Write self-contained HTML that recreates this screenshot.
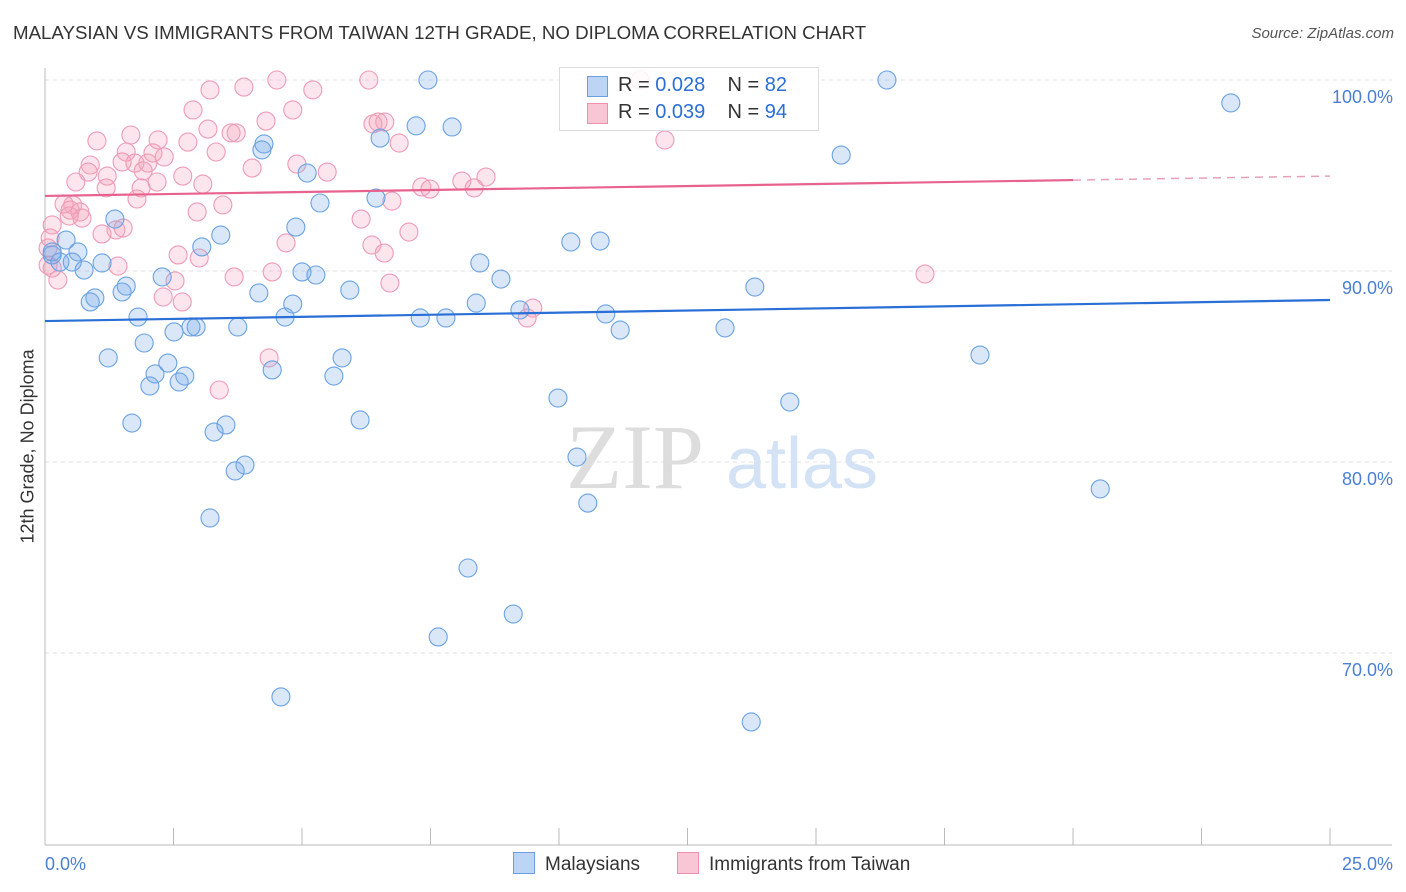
<!DOCTYPE html>
<html><head><meta charset="utf-8">
<style>
body{margin:0;background:#fff;font-family:"Liberation Sans",sans-serif;}
#wrap{position:relative;width:1406px;height:892px;overflow:hidden;}
.t{position:absolute;white-space:nowrap;}
</style></head>
<body>
<div id="wrap">
<div class="t" style="left:13px;top:22px;font-size:18.7px;color:#333;">MALAYSIAN VS IMMIGRANTS FROM TAIWAN 12TH GRADE, NO DIPLOMA CORRELATION CHART</div>
<div class="t" style="right:12px;top:25px;font-size:15px;color:#555;font-style:italic;">Source: ZipAtlas.com</div>
<div class="t" style="left:-62px;top:443px;font-size:18px;color:#333;transform:rotate(-90deg);transform-origin:center;width:180px;text-align:center;">12th Grade, No Diploma</div>
<svg id="svg" width="1406" height="892" style="position:absolute;left:0;top:0;"></svg>
</div>
<script>
const xTicksVals=[0,25];
const yTickVals=[100,90,80,70];
const yTickLabels=["100.0%","90.0%","80.0%","70.0%"];
const blueX=[7.45,16.38,23.07,6.52,7.22,7.92,4.26,4.22,15.49,5.10,6.44,5.35,1.36,4.88,3.42,3.05,10.23,10.80,0.41,0.64,0.14,0.29,0.53,1.11,0.76,8.46,5.0,5.27,2.28,8.87,13.81,4.16,1.58,1.50,5.93,0.97,0.88,4.82,8.39,9.24,1.81,4.67,7.30,7.80,10.91,11.19,13.23,2.84,2.94,2.51,3.75,1.93,1.23,2.39,5.78,18.19,2.14,2.72,4.42,5.62,2.04,2.61,9.98,14.49,1.69,3.52,3.29,6.13,10.35,3.89,3.70,20.53,10.56,3.21,8.23,9.11,7.65,4.59,13.74,0.14];
const blueY=[100,100,98.8,96.96,97.6,97.54,96.65,96.34,96.07,95.13,93.82,93.56,92.72,92.30,91.88,91.26,91.52,91.57,91.62,91.0,90.84,90.47,90.47,90.42,90.05,90.42,89.95,89.79,89.69,89.58,89.16,88.85,89.21,88.9,89.0,88.59,88.38,88.27,88.32,87.96,87.59,87.59,87.54,87.54,87.75,86.91,87.02,87.07,87.07,86.81,87.07,86.23,85.45,85.18,85.45,85.6,84.61,84.5,84.82,84.5,83.98,84.19,83.35,83.14,82.04,81.94,81.57,82.2,80.26,79.84,79.53,78.59,77.85,77.07,74.45,72.04,70.84,67.70,66.39,91.0];
const pinkX=[4.51,6.30,11.58,3.87,3.21,5.21,2.88,4.82,6.48,6.61,6.38,4.30,3.72,3.17,3.62,1.67,2.20,1.01,2.78,6.89,12.06,3.33,1.58,2.10,2.32,1.50,1.75,0.88,2.0,4.90,0.84,1.21,1.91,2.68,4.03,5.49,0.60,1.19,1.87,2.18,3.07,8.58,7.33,7.49,8.11,8.35,1.79,6.75,3.46,0.54,0.37,0.49,0.68,0.72,0.47,0.14,2.96,6.15,1.11,1.38,1.52,7.08,0.10,0.06,6.36,4.69,2.59,3.0,6.60,1.42,17.12,3.68,4.42,6.71,2.53,2.30,2.67,9.38,9.49,4.36,3.39,0.14,0.25,0.06];
const pinkY=[100,100,100,99.63,99.48,99.48,98.43,98.43,97.8,97.8,97.7,97.85,97.23,97.43,97.23,97.12,96.86,96.81,96.75,96.70,96.86,96.23,96.23,96.18,95.97,95.71,95.65,95.55,95.65,95.60,95.18,94.97,95.24,94.97,95.39,95.18,94.66,94.35,94.35,94.66,94.55,94.92,94.40,94.29,94.71,94.35,93.77,93.66,93.46,93.46,93.51,93.19,93.09,92.77,92.88,92.41,93.09,92.72,91.94,92.15,92.25,92.04,91.73,91.2,91.36,91.47,90.84,90.68,90.94,90.26,89.84,89.69,89.95,89.37,89.48,88.64,88.38,87.54,88.06,85.45,83.77,90.16,89.53,90.31];
const blueTrend=[[0,87.38],[25,88.48]];
const pinkTrend=[[0,93.93],[20,94.76],[25,94.97]];

const X0=45,X1=1330,Y100=80,PX10=191;
const sx=v=>X0+(X1-X0)*v/25;
const sy=v=>Y100+(100-v)*PX10/10;
const svg=document.getElementById('svg');
const NS='http://www.w3.org/2000/svg';
function mk(tag,attrs){const e=document.createElementNS(NS,tag);for(const k in attrs)e.setAttribute(k,attrs[k]);svg.appendChild(e);return e;}

yTickVals.forEach((v,i)=>{
 const g=mk('line',{x1:X0,x2:1392,y1:sy(v),y2:sy(v),stroke:'#e2e2e2','stroke-dasharray':'4,4'});
 
 
 const t=mk('text',{x:1393,y:sy(v)+23,'text-anchor':'end','font-size':18,fill:'#4a7fd4','font-family':'Liberation Sans'});
 t.textContent=yTickLabels[i];
 
 
});
let ax=mk('line',{x1:X0,x2:X0,y1:68,y2:845,stroke:'#bbb'});


ax=mk('line',{x1:X0,x2:1392,y1:845,y2:845,stroke:'#bbb'});


for(let i=0;i<=10;i++){
 const tk=mk('line',{x1:sx(i*2.5),x2:sx(i*2.5),y1:828,y2:845,stroke:'#bbb'});
 
 
}
xTicksVals.forEach(v=>{
 const t=mk('text',{x:v===0?45:1393,y:870,'text-anchor':v===0?'start':'end','font-size':18,fill:'#4a7fd4','font-family':'Liberation Sans'});
 t.textContent=v.toFixed(1)+'%';
 
 
});
let wm=mk('text',{x:635,y:488,'text-anchor':'middle','font-size':92,fill:'#ddd','font-family':'Liberation Serif'});
wm.textContent='ZIP';


wm=mk('text',{x:802,y:488,'text-anchor':'middle','font-size':72,fill:'#d3e2f4','font-family':'Liberation Sans'});
wm.textContent='atlas';



pinkX.forEach((v,i)=>{
 const c=mk('circle',{cx:sx(v),cy:sy(pinkY[i]),r:9,fill:'rgba(244,160,188,0.28)',stroke:'#ee9bb5','stroke-width':1.1});
 
 
});
blueX.forEach((v,i)=>{
 const c=mk('circle',{cx:sx(v),cy:sy(blueY[i]),r:9,fill:'rgba(120,170,232,0.28)',stroke:'#6aa2e2','stroke-width':1.1});
 
 
});
let l=mk('line',{x1:sx(blueTrend[0][0]),y1:sy(blueTrend[0][1]),x2:sx(blueTrend[1][0]),y2:sy(blueTrend[1][1]),stroke:'#2a6fd6','stroke-width':2.2});


l=mk('line',{x1:sx(pinkTrend[0][0]),y1:sy(pinkTrend[0][1]),x2:sx(pinkTrend[1][0]),y2:sy(pinkTrend[1][1]),stroke:'#e8628e','stroke-width':2.2});


l=mk('line',{x1:sx(pinkTrend[1][0]),y1:sy(pinkTrend[1][1]),x2:sx(pinkTrend[2][0]),y2:sy(pinkTrend[2][1]),stroke:'#e8a0b8','stroke-width':1.5,'stroke-dasharray':'8,6'});


</script>
<div class="t" style="left:559px;top:67px;width:258px;height:62px;border:1px solid #ddd;background:rgba(255,255,255,0.85);font-size:20px;color:#333;">
 <div style="position:absolute;left:27px;top:8px;width:19px;height:19px;background:#bcd5f5;border:1px solid #6a9fe0;"></div>
 <div style="position:absolute;left:58px;top:6px;">R = <span style="color:#2a6fd6">0.028</span>&nbsp;&nbsp;&nbsp; N = <span style="color:#2a6fd6">82</span></div>
 <div style="position:absolute;left:27px;top:35px;width:19px;height:19px;background:#f9c6d6;border:1px solid #ec90ad;"></div>
 <div style="position:absolute;left:58px;top:33px;">R = <span style="color:#2a6fd6">0.039</span>&nbsp;&nbsp;&nbsp; N = <span style="color:#2a6fd6">94</span></div>
</div>
<div class="t" style="left:513px;top:852px;font-size:19px;color:#333;"><span style="display:inline-block;width:20px;height:20px;background:#bcd5f5;border:1px solid #6a9fe0;vertical-align:-4px;margin-right:10px;"></span>Malaysians</div>
<div class="t" style="left:677px;top:852px;font-size:19px;color:#333;"><span style="display:inline-block;width:20px;height:20px;background:#f9c6d6;border:1px solid #ec90ad;vertical-align:-4px;margin-right:10px;"></span>Immigrants from Taiwan</div>
</body></html>
